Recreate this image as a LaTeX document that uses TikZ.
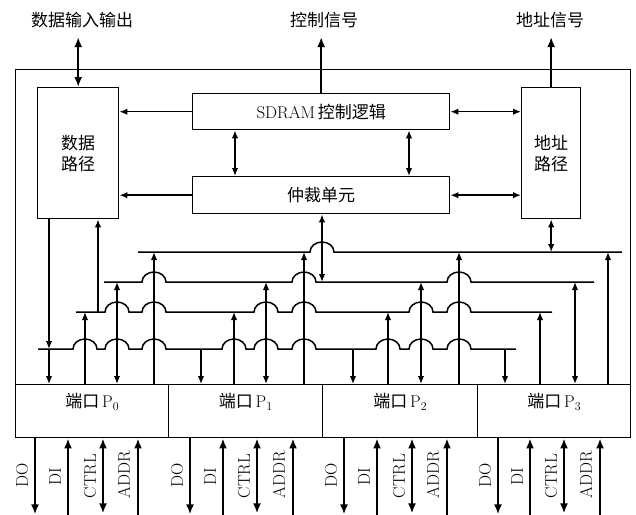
\documentclass[tikz,border=0pt]{standalone}
\usepackage{fontspec}
\newfontfamily\cjk{Noto Sans CJK SC}
\usetikzlibrary{arrows.meta}
\begin{document}
\begin{tikzpicture}[x=1pt,y=-1pt,font=\fontsize{17}{21}\selectfont,
  >={Latex[length=8pt,width=6.5pt]},
  box/.style={draw,line width=1.4pt,inner sep=0pt,anchor=north west},
  cjkbox/.style={box,align=center,font=\fontsize{17}{21}\selectfont\cjk},
  wire/.style={line width=1.5pt},
  fat/.style={line width=2.2pt,>={Latex[length=10pt,width=8pt]}},
  lbl/.style={inner sep=0pt},
  vlbl/.style={rotate=90,inner sep=0pt}]
\useasboundingbox (0,0) rectangle (636,514);
% boxes
\node[box,minimum width=615pt,minimum height=368pt] (outer) at (15,69) {};
\node[cjkbox,minimum width=81pt,minimum height=131pt] (dp) at (37,87) {数据\\路径};
\node[cjkbox,minimum width=59pt,minimum height=131pt] (ap) at (521,87) {地址\\路径};
\node[box,minimum width=257pt,minimum height=36pt] (ctl) at (192,93) {SDRAM\,{\cjk 控制逻辑}};
\node[box,minimum width=257pt,minimum height=37pt] (arb) at (192,176) {\cjk 仲裁单元};
\node[box,minimum width=153pt,minimum height=53pt] (p0) at (15,384) {};
\node[box,minimum width=154pt,minimum height=53pt] (p1) at (168,384) {};
\node[box,minimum width=155pt,minimum height=53pt] (p2) at (322,384) {};
\node[box,minimum width=153pt,minimum height=53pt] (p3) at (477,384) {};
\foreach \p/\n in {p0/0,p1/1,p2/2,p3/3}
  \path (\p.north) ++(0,18) node[lbl] (\p-t) {{\cjk 端口}\,$\mathrm{P}_{\n}$};
% top labels and arrows
\node[lbl] (t1) at (82,20) {\cjk 数据输入输出};
\node[lbl] (t2) at (324,20) {\cjk 控制信号};
\node[lbl] (t3) at (550,20) {\cjk 地址信号};
\draw[fat,<->,shorten <=9pt] (dp.north |- t1.south) -- (dp.north);
\draw[fat,->,shorten >=9pt] (ctl.north) -- (ctl.north |- t2.south);
\draw[fat,->,shorten >=9pt] (ap.north) -- (ap.north |- t3.south);
% inner connectors
\draw[wire,->] (ctl.west) -- (ctl.west -| dp.east);
\draw[wire,<->] (ctl.east) -- (ctl.east -| ap.west);
\draw[wire,->] (arb.west) -- (arb.west -| dp.east);
\draw[wire,<->] (arb.east) -- (arb.east -| ap.west);
\coordinate (c1) at (235,0);
\coordinate (c2) at (409,0);
\coordinate (c3) at (322,0);
\draw[wire,<->] (ctl.south -| c1) -- (arb.north -| c1);
\draw[wire,<->] (ctl.south -| c2) -- (arb.north -| c2);
% buses
\coordinate (L1a) at (138,252); \coordinate (L1b) at (622,252);
\coordinate (L2a) at (104,282); \coordinate (L2b) at (594,282);
\coordinate (L3a) at (76,312);  \coordinate (L3b) at (552,312);
\coordinate (L4a) at (38,349);  \coordinate (L4b) at (516,349);
\draw[wire] (L1a) foreach \h in {322}{ -- ({\h-12},252) arc[start angle=180,end angle=0,x radius=12pt,y radius=10pt] } -- (L1b);
\draw[wire] (L2a) foreach \h in {154,304,459}{ -- ({\h-12},282) arc[start angle=180,end angle=0,x radius=12pt,y radius=10pt] } -- (L2b);
\draw[wire] (L3a) foreach \h in {117,154,266,304,421,459}{ -- ({\h-12},312) arc[start angle=180,end angle=0,x radius=12pt,y radius=10pt] } -- (L3b);
\draw[wire] (L4a) foreach \h in {85,117,154,234,266,304,388,421,459}{ -- ({\h-12},349) arc[start angle=180,end angle=0,x radius=12pt,y radius=10pt] } -- (L4b);
% links to buses
\draw[wire,<->] (arb.south -| c3) -- (L2a -| c3);
\draw[wire,<->] (ap.south) -- (L1a -| ap.south);
\draw[wire,->] (dp.south -| 49,0) -- (L4a -| 49,0);
\draw[wire,->] (L3a -| 98,0) -- (dp.south -| 98,0);
\foreach \p/\a/\b/\c/\d in {p0/49/85/117/154, p1/201/234/266/304, p2/353/388/421/459, p3/505/540/575/608} {
  \draw[wire,->] (L4a -| \a,0) -- (\p.north -| \a,0);
  \draw[wire,->] (\p.north -| \b,0) -- (L3a -| \b,0);
  \draw[wire,<->] (\p.north -| \c,0) -- (L2a -| \c,0);
  \draw[wire,->] (\p.north -| \d,0) -- (L1a -| \d,0);
}
% bottom signals
\foreach \p/\o/\i/\c/\r in {p0/35/68/103/138, p1/190/223/257/293, p2/344/377/412/447, p3/498/530/564/600} {
  \draw[fat,->] (\p.south -| \o,0) -- ++(0,76);
  \draw[fat,<-] (\p.south -| \i,0) -- ++(0,78);
  \draw[fat,<->] (\p.south -| \c,0) -- ++(0,75);
  \draw[fat,<-] (\p.south -| \r,0) -- ++(0,78);
  \node[vlbl] (\p-do) at ({\o-13},475) {DO};
  \node[vlbl] (\p-di) at ({\i-13},477) {DI};
  \node[vlbl] (\p-ct) at ({\c-13},476) {CTRL};
  \node[vlbl] (\p-ad) at ({\r-14},475) {ADDR};
}
\end{tikzpicture}
\end{document}
